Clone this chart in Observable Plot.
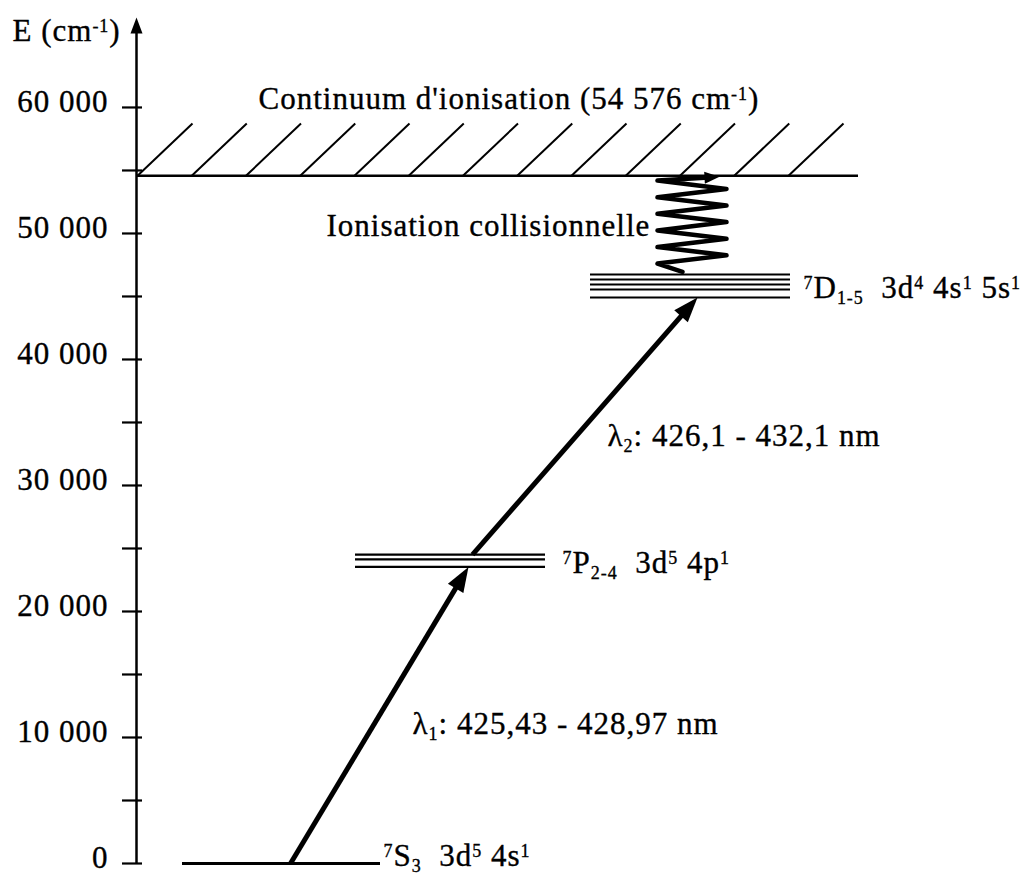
<!DOCTYPE html>
<html><head><meta charset="utf-8">
<script src="https://cdn.jsdelivr.net/npm/d3@7"></script>
<script src="https://cdn.jsdelivr.net/npm/@observablehq/plot@0.6"></script>
<style>
html,body{margin:0;padding:0;background:#fff;}
#chart svg{display:block;}
</style></head><body><div id="chart"></div>
<script>
// ---------------- data ----------------
const tickValues = [0, 5000, 10000, 15000, 20000, 25000, 30000, 35000, 40000, 45000, 50000, 55000, 60000];
const tickLabelValues = [0, 10000, 20000, 30000, 40000, 50000, 60000];
const tickLabels = ["0", "10 000", "20 000", "30 000", "40 000", "50 000", "60 000"];
const ionizationEnergy = 54576;
const groundLevels = [0];
const pLevels = [23540, 24130, 24520];
const dLevels = [44920, 45560, 45950, 46350, 46750];
const levelLabels = ["^7^S_3_  3d^5^ 4s^1^", "^7^P_2-4_  3d^5^ 4p^1^", "^7^D_1-5_  3d^4^ 4s^1^ 5s^1^"];
const transitionLabels = ["λ_1_: 425,43 - 428,97 nm", "λ_2_: 426,1 - 432,1 nm"];
const continuumLabel = "Continuum d'ionisation (54 576 cm^-1^)";
const collisionLabel = "Ionisation collisionnelle";
const axisLabel = "E (cm^-1^)";

// ---------------- layout ----------------
const W = 1021, H = 875;
const marginTop = 17, marginBottom = 12;
const yTop = 67140;
const FONT = "'Liberation Serif', 'Times New Roman', serif";
const FS = 31;
const L = {
  axisX: 136, tickX1: 122, tickX2: 142, tickLabelX: 108,
  contX1: 136, contX2: 858,
  hatchX0: 137, hatchStep: 54.25, hatchCount: 13, hatchDX: 55, hatchTopE: 58730,
  groundX: [182, 380], pX: [355, 545], dX: [590, 790],
  levelLabelX: [383, 562, 803], levelLabelE: [600, 23860, 45700],
  l1: {x1: 290, x2: 468}, l2: {x1: 472, x2: 697},
  transLabelX: [412, 607], transLabelE: [11080, 33940],
  contLabelX: 258, contLabelE: 60680,
  collLabelX: 326, collLabelE: 50600,
  axisLabelX: 12, axisLabelE: 66080,
  zigLeft: 657, zigRight: 726, zigStartX: 682, zigEndX: 719, zigSteps: 12
};

const ys = d3.scaleLinear([0, yTop], [H - marginBottom, marginTop]);

function headSymbol(angle, len, half) {
  const c = Math.cos(angle), s = Math.sin(angle);
  return {
    draw(ctx) {
      ctx.moveTo(0, 0);
      ctx.lineTo(-len * c - half * s, -len * s + half * c);
      ctx.lineTo(-len * c + half * s, -len * s - half * c);
      ctx.closePath();
    }
  };
}
function arrowPieces(x1, e1, x2, e2, len, half) {
  const px1 = x1, py1 = ys(e1), px2 = x2, py2 = ys(e2);
  const a = Math.atan2(py2 - py1, px2 - px1);
  const sx = px2 - Math.cos(a) * len * 0.7, sy = py2 - Math.sin(a) * len * 0.7;
  return {
    link: {x1, y1: e1, x2: sx, y2: ys.invert(sy)},
    head: {x: x2, y: e2, symbol: headSymbol(a, len, half)}
  };
}

const transitions = [
  arrowPieces(L.l1.x1, groundLevels[0], L.l1.x2, pLevels[0], 25, 9),
  arrowPieces(L.l2.x1, pLevels[pLevels.length - 1], L.l2.x2, dLevels[0], 25, 9)
];

// hatching strokes
const hatch = d3.range(L.hatchCount).map(i => L.hatchX0 + i * L.hatchStep);

// zigzag (collisional ionisation glyph)
const zigE0 = dLevels[dLevels.length - 1] + 200;
const zigE1 = ionizationEnergy - 80;
const zig = [{x: L.zigStartX, y: zigE0}];
for (let i = 1; i < L.zigSteps; i++) {
  zig.push({x: i % 2 ? L.zigLeft : L.zigRight, y: zigE0 + (zigE1 - 300 - zigE0) * i / (L.zigSteps - 1)});
}
if (zig[zig.length - 1].x !== L.zigLeft) zig.push({x: L.zigLeft, y: zigE1 - 300});
const zigArrow = arrowPieces(L.zigLeft, zigE1 - 300, L.zigEndX, zigE1, 15, 6);
zig.push({x: zigArrow.link.x2, y: zigArrow.link.y2});

const axisHead = {x: L.axisX, y: yTop, symbol: headSymbol(-Math.PI / 2, 16, 6)};

const textOpts = {fontFamily: FONT, fontSize: FS, fill: "black", stroke: "black", strokeWidth: 0.35, textAnchor: "start"};

const marks = [
  // axis
  Plot.ruleX([L.axisX], {y1: 0, y2: ys.invert(marginTop + 12), strokeWidth: 2.5}),
  Plot.dot([axisHead], {x: "x", y: "y", symbol: axisHead.symbol, fill: "black", stroke: "none"}),
  Plot.ruleY(tickValues, {x1: L.tickX1, x2: L.tickX2, strokeWidth: 2.2}),
  Plot.text(tickLabelValues, {...textOpts, x: L.tickLabelX, y: d => d, text: (d, i) => tickLabels[i], textAnchor: "end", dy: -5}),
  Plot.text([axisLabel], {...textOpts, x: L.axisLabelX, y: L.axisLabelE, text: d => d}),
  // continuum
  Plot.ruleY([ionizationEnergy], {x1: L.contX1, x2: L.contX2, strokeWidth: 2.5}),
  Plot.link(hatch, {x1: d => d, y1: ionizationEnergy, x2: d => d + L.hatchDX, y2: L.hatchTopE, strokeWidth: 2}),
  Plot.text([continuumLabel], {...textOpts, x: L.contLabelX, y: L.contLabelE, text: d => d}),
  // levels
  Plot.ruleY(groundLevels, {x1: L.groundX[0], x2: L.groundX[1], strokeWidth: 3}),
  Plot.ruleY(pLevels, {x1: L.pX[0], x2: L.pX[1], strokeWidth: 2.2}),
  Plot.ruleY(dLevels, {x1: L.dX[0], x2: L.dX[1], strokeWidth: 2}),
  Plot.text(levelLabels, {...textOpts, x: (d, i) => L.levelLabelX[i], y: (d, i) => L.levelLabelE[i], text: d => d}),
  // transitions
  Plot.link(transitions.map(t => t.link), {x1: "x1", y1: "y1", x2: "x2", y2: "y2", strokeWidth: 5, strokeLinecap: "butt"}),
  ...transitions.map(t => Plot.dot([t.head], {x: "x", y: "y", symbol: t.head.symbol, fill: "black", stroke: "none"})),
  Plot.text(transitionLabels, {...textOpts, x: (d, i) => L.transLabelX[i], y: (d, i) => L.transLabelE[i], text: d => d}),
  // collisional ionisation
  Plot.line(zig, {x: "x", y: "y", strokeWidth: 4.5, strokeLinejoin: "round"}),
  Plot.dot([zigArrow.head], {x: "x", y: "y", symbol: zigArrow.head.symbol, fill: "black", stroke: "none"}),
  Plot.text([collisionLabel], {...textOpts, x: L.collLabelX, y: L.collLabelE, text: d => d})
];

const svg = Plot.plot({
  width: W, height: H,
  marginTop: 0, marginBottom: 0, marginLeft: 0, marginRight: 0,
  x: {domain: [0, W], range: [0, W], axis: null},
  y: {domain: [0, yTop], range: [H - marginBottom, marginTop], axis: null},
  style: {background: "white", letterSpacing: "1px", fontFamily: FONT},
  marks
});

// rich text: ^sup^ and _sub_
svg.querySelectorAll("text").forEach(t => {
  const s = t.textContent;
  t.setAttribute("style", (t.getAttribute("style") || "") + ";white-space:pre");
  if (!/[\^_]/.test(s)) return;
  t.textContent = "";
  const re = /\^([^\^]*)\^|_([^_]*)_|([^\^_]+)/g;
  let m;
  while ((m = re.exec(s))) {
    const ts = document.createElementNS("http://www.w3.org/2000/svg", "tspan");
    if (m[1] !== undefined) {
      ts.textContent = m[1]; ts.setAttribute("font-size", "58%"); ts.setAttribute("baseline-shift", "9px");
    } else if (m[2] !== undefined) {
      ts.textContent = m[2]; ts.setAttribute("font-size", "58%"); ts.setAttribute("baseline-shift", "-6px");
    } else {
      ts.textContent = m[3];
    }
    t.appendChild(ts);
  }
});

document.getElementById("chart").appendChild(svg);
</script></body></html>
